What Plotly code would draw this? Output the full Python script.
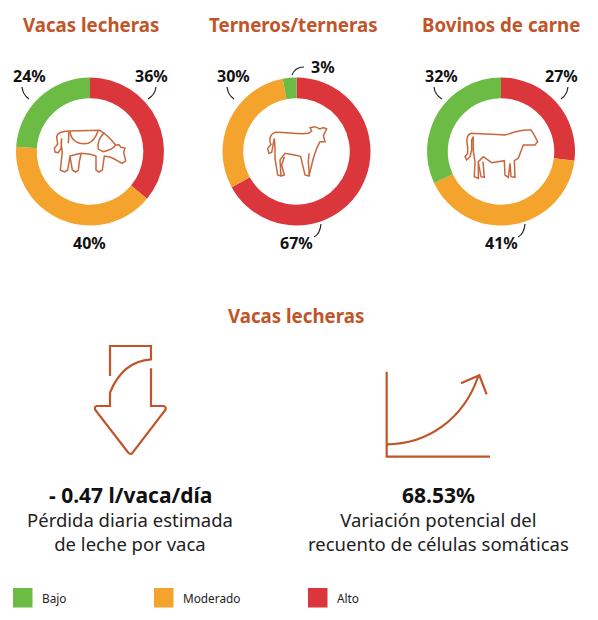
import re
import plotly.graph_objects as go

categories = ["Alto", "Moderado", "Bajo"]
group_titles = ["Vacas lecheras", "Terneros/terneras", "Bovinos de carne"]
vacas_lecheras = [36, 40, 24]
terneros = [67, 30, 3]
bovinos = [27, 41, 32]
stat_values = ["- 0.47 l/vaca/día", "68.53%"]
stat_texts = [["Pérdida diaria estimada", "de leche por vaca"],
              ["Variación potencial del", "recuento de células somáticas"]]
section_title = "Vacas lecheras"

W, H = 598, 620
RED, ORANGE, GREEN = "#DB363C", "#F4A32C", "#6CBB45"
TITLE_C = "#BF5528"
ICON_C = "#C8673C"
FONT = "Noto Sans"
colors = [RED, ORANGE, GREEN]

fig = go.Figure()
centers = [(90, 151.5), (296.5, 151.5), (501, 151.5)]
R = 74
for vals, (cx, cy), name in zip([vacas_lecheras, terneros, bovinos], centers, group_titles):
    fig.add_trace(go.Pie(
        labels=categories, values=vals, name=name, sort=False, direction="clockwise",
        rotation=0, hole=0.72, textinfo="none", showlegend=False,
        marker=dict(colors=colors, line=dict(width=0)),
        domain=dict(x=[(cx - R) / W, (cx + R) / W], y=[1 - (cy + R) / H, 1 - (cy - R) / H]),
    ))

fig.add_trace(go.Scatter(x=[], y=[], xaxis="x", yaxis="y", showlegend=False))

shapes, annots = [], []


def text(x, y, s, size, color="#111111", bold=False, anchor="center"):
    annots.append(dict(x=x, y=y, xref="x", yref="y", text=f"<b>{s}</b>" if bold else s,
                       showarrow=False, xanchor=anchor, yanchor="middle",
                       font=dict(family=FONT, size=size, color=color), borderpad=0))


def path(d, color=ICON_C, width=1.5):
    shapes.append(dict(type="path", path=d, xref="x", yref="y",
                       line=dict(color=color, width=width), fillcolor="rgba(0,0,0,0)"))


def icon(d, ox, oy, width=1.5, color=ICON_C):
    nums = iter(range(100000))
    def rep(m):
        i = next(nums)
        v = float(m.group(0)) / 3
        return f"{v + (ox if i % 2 == 0 else oy):.2f}"
    path(re.sub(r"\d+(?:\.\d+)?", rep, d), color, width)


# titles
for s, x in zip(group_titles, [90.5, 293.5, 501]):
    text(x, 24, s, 18.7, TITLE_C, True)
text(295.5, 315, section_title, 18.7, TITLE_C, True)

# value labels
label_pos = [
    [(151, 76), (89, 243), (29, 76)],
    [(296, 243), (233, 76), (323, 67)],
    [(561, 76), (501, 243), (441, 76)],
]
for vals, pos in zip([vacas_lecheras, terneros, bovinos], label_pos):
    for v, (x, y) in zip(vals, pos):
        text(x, y, f"{v}%", 16, "#111111", True)

# leader lines
for d in ["M22,87 Q23,95 29,99", "M156,87 Q155,95 148,99",
          "M227,87 Q228,95 234,99", "M292,75 Q295,67 304,67", "M321,224 Q320,234 314,237",
          "M434,87 Q435,95 442,99", "M568,87 Q567,95 561,99", "M525,224 Q524,234 518,237"]:
    path(d, "#222222", 1.2)

# animal icons
icon("M72,33 L165,31 C180,40 200,60 212,75 L222,74 L228,82 L240,84 L236,97 L242,122 L232,130 "
     "C220,125 205,112 190,110 L178,108 L172,150 L162,156 L153,150 L153,108 L135,103 L110,100 "
     "L95,103 L75,108 L68,150 L58,156 L46,150 L50,112 L52,95 L48,70 L50,55 L48,85 L40,98 L30,96 "
     "L28,85 L38,72 L35,50 C36,40 45,34 72,33 Z", 45, 120)
icon("M72,33 L70,70", 45, 120)
icon("M75,35 C78,62 100,76 130,70 C145,65 155,45 160,31", 45, 120)
icon("M178,38 C165,50 155,70 160,88 L175,95 C190,92 205,85 212,75", 45, 120)
icon("M75,110 L82,150 L92,156 L100,150 L103,125 L108,102", 45, 120)
icon("M160,55 C130,60 90,50 60,52 C45,58 40,75 48,88 L38,100 L42,115 L50,112 L55,85 L58,70 "
     "L60,100 L60,130 L68,180 L78,183 L75,135 L90,115 L130,122 L137,125 L150,180 L162,183 "
     "L175,130 L185,100 L195,80 L210,80 L205,62 L215,42 L205,38 L195,42 L180,35 L165,38 L170,48 Z",
     255, 115)
icon("M88,125 L80,150 L88,180 L78,183", 255, 115)
icon("M162,115 L160,140 L163,183", 255, 115)
icon("M228,30 L215,30 C195,30 175,38 150,45 C110,42 75,42 50,40 C38,42 32,55 38,80 L38,100 "
     "L30,110 L35,120 L45,110 L50,90 L50,60 L55,50 L55,95 L60,125 L58,170 L70,175 L70,125 L85,110 "
     "L110,128 L148,122 L150,165 L160,172 L165,130 L168,170 L180,172 L178,122 L190,115 L205,75 "
     "L240,75 L248,65 L235,40 Z", 455, 120)
icon("M70,128 L78,170 L88,172 L84,125", 455, 120)

# arrow icon
icon("M150,228 L150,138 L273,138 L273,178 C215,182 175,215 150,278 L150,318 L110,318 "
     "Q102,320 106,330 L205,458 Q212,465 218,458 L316,330 Q320,320 310,318 L273,318 L273,205",
     60, 300, 2.2, TITLE_C)
# growth icon
icon("M140,65 L140,320 L450,320", 340, 350, 2.2, TITLE_C)
icon("M140,283 C260,283 370,210 415,78", 340, 350, 2.2, TITLE_C)
icon("M363,100 L418,76 L440,133", 340, 350, 2.2, TITLE_C)

# statistics
for x, v, lines in zip([130, 438], stat_values, stat_texts):
    text(x, 495, v, 21, "#111111", True)
    text(x, 531.5, "<br>".join(lines), 18.5, "#222222")

# legend
for name, col, x0 in zip(["Bajo", "Moderado", "Alto"], [GREEN, ORANGE, RED], [13, 154, 308]):
    shapes.append(dict(type="rect", x0=x0, x1=x0 + 19.5, y0=588, y1=607.5, xref="x", yref="y",
                       fillcolor=col, line=dict(width=0)))
    text(x0 + 27.5, 598, name, 11.8, "#222222", anchor="left")

fig.update_layout(
    width=W, height=H, margin=dict(l=0, r=0, t=0, b=0), autosize=False,
    paper_bgcolor="white", plot_bgcolor="rgba(0,0,0,0)",
    xaxis=dict(range=[0, W], visible=False, domain=[0, 1], fixedrange=True),
    yaxis=dict(range=[H, 0], visible=False, domain=[0, 1], fixedrange=True),
    shapes=shapes, annotations=annots, showlegend=False,
)
fig.write_html("out.html", config={"displayModeBar": False},
               post_script="document.body.style.margin='0';")
